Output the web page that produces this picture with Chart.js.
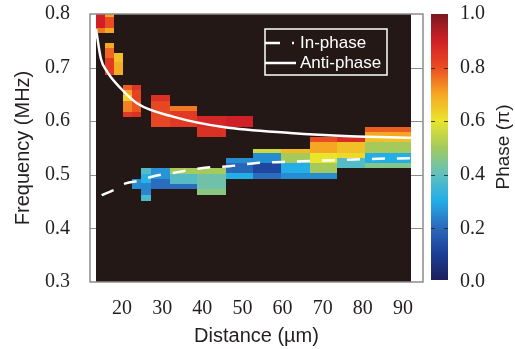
<!DOCTYPE html>
<html>
<head>
<meta charset="utf-8">
<script src="https://cdn.jsdelivr.net/npm/chart.js@4/dist/chart.umd.min.js"></script>
<style>
  html, body { margin: 0; padding: 0; background: #ffffff; }
  #wrap { width: 515px; height: 349px; }
</style>
</head>
<body>
<div id="wrap"><canvas id="phase-chart" width="515" height="349"></canvas></div>
<script>
const X_TICKS = [20, 30, 40, 50, 60, 70, 80, 90];
const Y_TICKS = [0.3, 0.4, 0.5, 0.6, 0.7, 0.8];
const PHASE_TICKS = [0, 0.2, 0.4, 0.6, 0.8, 1.0];

// measured range of the map (µm)
const MAP_START = 13.5;
const MAP_END = 92.0;

// column edges of the phase map (µm)
const COL_EDGES = [13.5, 15.7, 18.0, 20.3, 22.5, 24.7, 27.2, 31.9, 38.7, 45.8, 52.6, 59.7, 66.8, 73.6, 80.5, 92.0];

// [column, freq low, freq high, phase (π)]
const CELLS = [
  [0, 0.774, 0.800, 0.90], [0, 0.765, 0.774, 0.75],
  [1, 0.795, 0.800, 0.70], [1, 0.774, 0.795, 0.80], [1, 0.765, 0.774, 0.70],
  [1, 0.736, 0.746, 0.70], [1, 0.718, 0.736, 0.77], [1, 0.686, 0.718, 0.84],
  [2, 0.710, 0.727, 0.66], [2, 0.686, 0.710, 0.69],
  [3, 0.658, 0.668, 0.78], [3, 0.648, 0.658, 0.70], [3, 0.638, 0.648, 0.63],
  [3, 0.617, 0.638, 0.74], [3, 0.608, 0.617, 0.84],
  [4, 0.658, 0.668, 0.85], [4, 0.638, 0.658, 0.82], [4, 0.617, 0.638, 0.79],
  [4, 0.608, 0.617, 0.86], [4, 0.473, 0.492, 0.25],
  [5, 0.502, 0.512, 0.38], [5, 0.485, 0.502, 0.31], [5, 0.462, 0.485, 0.24], [5, 0.452, 0.462, 0.36],
  [6, 0.638, 0.648, 0.86], [6, 0.590, 0.638, 0.81], [6, 0.492, 0.512, 0.26], [6, 0.473, 0.492, 0.20],
  [7, 0.619, 0.629, 0.75], [7, 0.590, 0.619, 0.84], [7, 0.502, 0.512, 0.50],
  [7, 0.483, 0.502, 0.38], [7, 0.473, 0.483, 0.20],
  [8, 0.590, 0.610, 0.88], [8, 0.571, 0.590, 0.86], [8, 0.502, 0.512, 0.50],
  [8, 0.473, 0.502, 0.42], [8, 0.462, 0.473, 0.46],
  [9, 0.590, 0.610, 0.90], [9, 0.522, 0.531, 0.25], [9, 0.503, 0.522, 0.19], [9, 0.492, 0.503, 0.30],
  [10, 0.541, 0.549, 0.56], [10, 0.522, 0.541, 0.25], [10, 0.503, 0.522, 0.12], [10, 0.492, 0.503, 0.20],
  [11, 0.541, 0.549, 0.67], [11, 0.522, 0.541, 0.50], [11, 0.503, 0.522, 0.30], [11, 0.492, 0.503, 0.25],
  [12, 0.561, 0.570, 0.80], [12, 0.541, 0.561, 0.70], [12, 0.522, 0.541, 0.60],
  [12, 0.503, 0.522, 0.50], [12, 0.492, 0.503, 0.25],
  [13, 0.561, 0.570, 0.87], [13, 0.541, 0.561, 0.66], [13, 0.531, 0.541, 0.62], [13, 0.512, 0.531, 0.38],
  [14, 0.580, 0.590, 0.78], [14, 0.570, 0.580, 0.70], [14, 0.561, 0.570, 0.66],
  [14, 0.541, 0.561, 0.50], [14, 0.522, 0.541, 0.30], [14, 0.512, 0.522, 0.45],
];

const ANTI_PHASE_X = [13.5, 14.7, 16.3, 19.7, 23.8, 32.9, 45.2, 61.9, 76.8, 92.0];
const ANTI_PHASE_Y = [0.772, 0.717, 0.692, 0.661, 0.633, 0.608, 0.589, 0.578, 0.572, 0.569];

const IN_PHASE_X = [14.9, 17.7, 20.9, 24.2, 27.2, 30.4, 33.9, 40.6, 46.8, 53.6, 60.0, 68.0, 81.2, 92.0];
const IN_PHASE_Y = [0.462, 0.471, 0.484, 0.489, 0.496, 0.501, 0.505, 0.513, 0.516, 0.522, 0.524, 0.526, 0.5295, 0.531];

const JET_STOPS = [
  [0.0, [28, 31, 92]], [0.1, [27, 63, 151]], [0.2, [43, 108, 189]], [0.3, [35, 174, 232]],
  [0.4, [98, 192, 188]], [0.5, [165, 202, 91]], [0.6, [235, 228, 45]], [0.7, [245, 166, 35]],
  [0.8, [235, 75, 34]], [0.9, [207, 31, 39]], [1.0, [122, 26, 32]],
];

const MAP_BG = "#231816";
const TEXT_COLOR = "#231f20";
const FRAME_COLOR = "#8c8c8c";

function jetColor(value) {
  const v = Math.max(0, Math.min(1, value));
  for (let i = 1; i < JET_STOPS.length; i++) {
    const [v1, c1] = JET_STOPS[i];
    const [v0, c0] = JET_STOPS[i - 1];
    if (v <= v1) {
      const t = (v - v0) / (v1 - v0);
      const rgb = c0.map((c, k) => Math.round(c + (c1[k] - c) * t));
      return `rgb(${rgb[0]}, ${rgb[1]}, ${rgb[2]})`;
    }
  }
  return "rgb(122, 26, 32)";
}

function toPoints(xs, ys) {
  return xs.map((x, i) => ({ x: x, y: ys[i] }));
}

const phaseMapPlugin = {
  id: "phaseMap",
  beforeDatasetsDraw(chart) {
    const { ctx, chartArea } = chart;
    const xs = chart.scales.x;
    const ys = chart.scales.y;
    ctx.save();

    const left = Math.round(xs.getPixelForValue(MAP_START));
    const right = Math.round(xs.getPixelForValue(MAP_END));
    ctx.fillStyle = MAP_BG;
    ctx.fillRect(left, chartArea.top, right - left, chartArea.bottom - chartArea.top);

    CELLS.forEach(([col, low, high, phase]) => {
      const x0 = Math.round(xs.getPixelForValue(COL_EDGES[col]));
      const x1 = Math.round(xs.getPixelForValue(COL_EDGES[col + 1]));
      const y0 = Math.round(ys.getPixelForValue(high));
      const y1 = Math.round(ys.getPixelForValue(low));
      ctx.fillStyle = jetColor(phase);
      ctx.fillRect(x0, y0, x1 - x0, y1 - y0);
    });

    // small inner tick marks on the white margins
    ctx.strokeStyle = FRAME_COLOR;
    ctx.lineWidth = 1;
    Y_TICKS.slice(1, -1).forEach((v) => {
      const y = Math.round(ys.getPixelForValue(v)) + 0.5;
      ctx.beginPath();
      ctx.moveTo(chartArea.left, y);
      ctx.lineTo(left, y);
      ctx.moveTo(right, y);
      ctx.lineTo(chartArea.right, y);
      ctx.stroke();
    });
    ctx.restore();
  },
  afterDatasetsDraw(chart) {
    const { ctx, chartArea } = chart;
    const cs = chart.scales.c;
    ctx.save();

    // frame
    ctx.strokeStyle = FRAME_COLOR;
    ctx.lineWidth = 1.5;
    ctx.strokeRect(chartArea.left, chartArea.top, chartArea.right - chartArea.left, chartArea.bottom - chartArea.top);

    // legend
    ctx.strokeStyle = "#ffffff";
    ctx.lineWidth = 1.5;
    ctx.strokeRect(265, 29, 122, 46);
    ctx.lineWidth = 2.5;
    ctx.beginPath();
    ctx.moveTo(265, 43);
    ctx.lineTo(280, 43);
    ctx.moveTo(292, 43);
    ctx.lineTo(294, 43);
    ctx.moveTo(265, 63);
    ctx.lineTo(296, 63);
    ctx.stroke();
    ctx.fillStyle = "#ffffff";
    ctx.font = '17px "Liberation Sans", Arial, sans-serif';
    ctx.textAlign = "left";
    ctx.textBaseline = "middle";
    ctx.fillText("In-phase", 300, 43);
    ctx.fillText("Anti-phase", 300, 63);

    // colour bar
    const barLeft = 431;
    const barWidth = 17;
    const top = cs.getPixelForValue(1);
    const bottom = cs.getPixelForValue(0) - 2;
    const grad = ctx.createLinearGradient(0, bottom, 0, top);
    JET_STOPS.forEach(([v, c]) => grad.addColorStop(v, `rgb(${c[0]}, ${c[1]}, ${c[2]})`));
    ctx.fillStyle = grad;
    ctx.fillRect(barLeft, top, barWidth, bottom - top);
    ctx.strokeStyle = "rgba(35, 31, 32, 0.8)";
    ctx.lineWidth = 1;
    PHASE_TICKS.slice(1, -1).forEach((v) => {
      const y = Math.round(cs.getPixelForValue(v)) + 0.5;
      ctx.beginPath();
      ctx.moveTo(barLeft, y);
      ctx.lineTo(barLeft + 4, y);
      ctx.moveTo(barLeft + barWidth - 4, y);
      ctx.lineTo(barLeft + barWidth, y);
      ctx.stroke();
    });

    ctx.fillStyle = TEXT_COLOR;
    ctx.font = '19px "Liberation Sans", Arial, sans-serif';
    ctx.translate(504, (top + bottom) / 2);
    ctx.rotate(-Math.PI / 2);
    ctx.textAlign = "center";
    ctx.textBaseline = "middle";
    ctx.fillText("Phase (\u03c0)", 0, 0);
    ctx.restore();
  },
};

function fixedTicks(values) {
  return function (scale) {
    scale.ticks = values.map((v) => ({ value: v }));
  };
}

function fixWidth(width) {
  return function (scale) {
    scale.width = width;
    scale.paddingTop = 0;
    scale.paddingBottom = 0;
  };
}

function createPhaseChart() {
  const canvas = document.getElementById("phase-chart");
  if (!canvas || typeof Chart === "undefined") {
    return;
  }

  const tickFont = { family: '"Liberation Serif", "Times New Roman", serif', size: 20 };
  const titleFont = { family: '"Liberation Sans", Arial, sans-serif', size: 20 };

  new Chart(canvas.getContext("2d"), {
    type: "scatter",
    data: {
      datasets: [
        {
          label: "In-phase",
          data: toPoints(IN_PHASE_X, IN_PHASE_Y),
          showLine: true,
          borderColor: "#ffffff",
          borderWidth: 2.5,
          borderDash: [13, 12],
          pointRadius: 0,
          cubicInterpolationMode: "monotone",
        },
        {
          label: "Anti-phase",
          data: toPoints(ANTI_PHASE_X, ANTI_PHASE_Y),
          showLine: true,
          borderColor: "#ffffff",
          borderWidth: 2.5,
          pointRadius: 0,
          cubicInterpolationMode: "monotone",
        },
      ],
    },
    options: {
      responsive: false,
      animation: false,
      devicePixelRatio: 1,
      layout: { autoPadding: false, padding: { top: 14, left: 0, right: 0, bottom: 0 } },
      plugins: {
        legend: { display: false },
        tooltip: { enabled: false },
      },
      scales: {
        x: {
          type: "linear",
          min: 12,
          max: 95,
          afterBuildTicks: fixedTicks(X_TICKS),
          afterFit(scale) {
            scale.height = 67;
            scale.paddingLeft = 0;
            scale.paddingRight = 0;
          },
          grid: { display: false, drawTicks: false },
          border: { display: false },
          ticks: { font: tickFont, color: TEXT_COLOR, padding: 15, maxRotation: 0 },
          title: { display: true, text: "Distance (\u00b5m)", font: titleFont, color: TEXT_COLOR, padding: { top: 0, bottom: 1 } },
        },
        y: {
          type: "linear",
          min: 0.3,
          max: 0.8,
          afterBuildTicks: fixedTicks(Y_TICKS),
          afterFit: fixWidth(90),
          grid: { display: false, drawTicks: false },
          border: { display: false },
          ticks: { font: tickFont, color: TEXT_COLOR, padding: 20, callback: (v) => v.toFixed(1) },
          title: { display: true, text: "Frequency (MHz)", font: titleFont, color: TEXT_COLOR, padding: { top: 11, bottom: 0 } },
        },
        c: {
          type: "linear",
          position: "right",
          min: 0,
          max: 1,
          afterBuildTicks: fixedTicks(PHASE_TICKS),
          afterFit: fixWidth(92),
          grid: { display: false, drawTicks: false },
          border: { display: false },
          ticks: { font: tickFont, color: TEXT_COLOR, padding: 37, callback: (v) => v.toFixed(1) },
        },
      },
    },
    plugins: [phaseMapPlugin],
  });
}

window.addEventListener("DOMContentLoaded", createPhaseChart);
</script>
</body>
</html>
